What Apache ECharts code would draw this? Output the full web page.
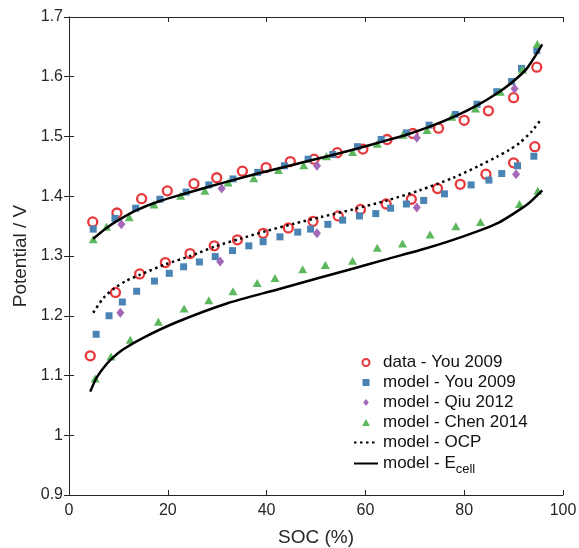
<!DOCTYPE html>
<html><head><meta charset="utf-8">
<script src="https://cdn.jsdelivr.net/npm/echarts@6/dist/echarts.min.js"></script>
<style>html,body{margin:0;padding:0;background:#fff}#c{width:579px;height:548px}</style>
</head><body><div id="c"></div>
<script>
// data - You 2009 (upper / lower branches)
const dataYouUpper = [[4.8,1.357],[9.7,1.372],[14.7,1.396],[19.9,1.409],[25.3,1.421],[29.9,1.431],[35.1,1.442],[39.9,1.448],[44.8,1.458],[49.6,1.462],[54.3,1.473],[59.5,1.479],[64.4,1.495],[69.6,1.505],[74.8,1.514],[80.0,1.527],[84.9,1.543],[90.0,1.565],[94.7,1.616]];
const dataYouLower = [[4.3,1.133],[9.4,1.239],[14.3,1.270],[19.5,1.289],[24.5,1.304],[29.4,1.317],[34.1,1.327],[39.3,1.338],[44.4,1.347],[49.4,1.358],[54.5,1.367],[59.0,1.378],[64.2,1.387],[69.3,1.395],[74.6,1.413],[79.2,1.420],[84.4,1.437],[90.0,1.456],[94.3,1.483]];
// model - You 2009
const modelYouUpper = [[4.9,1.345],[9.3,1.363],[13.5,1.380],[18.4,1.395],[23.7,1.407],[28.3,1.419],[33.2,1.429],[38.2,1.440],[43.6,1.451],[48.4,1.462],[53.4,1.470],[58.4,1.483],[63.2,1.495],[68.3,1.506],[72.9,1.519],[78.2,1.537],[82.6,1.554],[86.6,1.575],[89.6,1.592],[91.6,1.614],[94.7,1.644]];
const modelYouLower = [[5.5,1.169],[8.1,1.200],[10.8,1.223],[13.7,1.241],[17.3,1.258],[20.3,1.271],[23.2,1.282],[26.4,1.290],[29.6,1.299],[33.1,1.309],[36.4,1.317],[39.3,1.324],[42.7,1.332],[46.3,1.340],[48.9,1.345],[52.4,1.353],[55.4,1.360],[58.8,1.367],[62.1,1.371],[65.1,1.380],[68.3,1.387],[71.8,1.393],[76.0,1.404],[81.4,1.419],[85.0,1.427],[87.6,1.438],[90.8,1.451],[94.1,1.467]];
// model - Qiu 2012
const modelQiuUpper = [[10.6,1.353],[30.9,1.413],[50.2,1.451],[70.4,1.498],[90.2,1.580]];
const modelQiuLower = [[10.4,1.205],[30.6,1.291],[50.2,1.338],[70.4,1.381],[90.5,1.437]];
// model - Chen 2014
const modelChenUpper = [[4.9,1.328],[7.6,1.349],[12.2,1.365],[17.2,1.386],[22.6,1.401],[27.5,1.409],[32.2,1.423],[37.4,1.430],[42.4,1.444],[47.5,1.452],[52.1,1.467],[57.4,1.474],[62.4,1.488],[67.6,1.503],[72.5,1.511],[77.5,1.533],[82.3,1.547],[87.3,1.575],[91.8,1.612],[94.8,1.655]];
const modelChenLower = [[5.3,1.095],[8.5,1.132],[12.4,1.160],[18.1,1.190],[23.3,1.212],[28.3,1.226],[33.2,1.241],[38.1,1.255],[41.7,1.263],[47.3,1.278],[51.9,1.285],[57.4,1.292],[62.4,1.314],[67.5,1.321],[73.1,1.336],[78.3,1.350],[83.3,1.357],[91.2,1.387],[94.9,1.409]];
// model - OCP
const ocpCurve = [[4.9,1.205],[7.0,1.230],[9.2,1.246],[11.5,1.258],[14.2,1.268],[19.5,1.286],[24.6,1.300],[29.6,1.316],[34.7,1.329],[40.0,1.342],[45.5,1.354],[50.9,1.365],[57.5,1.378],[64.4,1.393],[71.0,1.410],[77.8,1.431],[83.0,1.451],[86.6,1.466],[89.0,1.477],[91.3,1.490],[93.5,1.507],[95.6,1.529]];
// model - E_cell (charge / discharge)
const ecellUpper = [[4.9,1.329],[7.6,1.347],[10.0,1.360],[13.5,1.376],[18.4,1.392],[23.7,1.405],[28.3,1.416],[33.2,1.427],[38.2,1.438],[43.6,1.449],[48.4,1.459],[53.4,1.469],[58.4,1.480],[63.2,1.491],[68.3,1.503],[72.9,1.516],[78.2,1.534],[82.6,1.552],[86.6,1.572],[89.6,1.590],[92.7,1.614],[95.8,1.654]];
const ecellLower = [[4.3,1.073],[5.5,1.095],[7.0,1.113],[8.5,1.127],[11.0,1.144],[15.2,1.164],[22.0,1.190],[32.1,1.221],[42.2,1.244],[50.9,1.264],[57.6,1.279],[64.0,1.294],[71.1,1.310],[77.0,1.325],[83.2,1.343],[87.0,1.356],[90.0,1.371],[93.0,1.388],[95.8,1.410]];
const xTicks = [0,20,40,60,80,100];
const yTicks = [0.9,1.0,1.1,1.2,1.3,1.4,1.5,1.6,1.7];

const FONT = '"Liberation Sans", Arial, sans-serif';
const TXT = '#262626';
const RED = '#e8383b', BLUE = '#4a84b5', PURPLE = '#a369b8', GREEN = '#5cb85c';
const chart = echarts.init(document.getElementById('c'), null, {renderer:'canvas'});
const axisBase = {
  axisLine:{show:true,lineStyle:{color:TXT,width:1}},
  axisTick:{show:true,inside:true,length:5,lineStyle:{color:TXT,width:1}},
  splitLine:{show:false}
};
const xCommon = Object.assign({type:'value',min:xTicks[0],max:xTicks[xTicks.length-1],interval:20}, axisBase);
const yCommon = Object.assign({type:'value',min:yTicks[0],max:yTicks[yTicks.length-1],interval:0.1}, axisBase);
const lineSeries = (name, data, type) => ({
  name, type:'line', data, smooth:0.25, symbol:'none', z:5,
  lineStyle:{color:'#000',width:2.5,type:type}, itemStyle:{color:'#000'}
});
const scatter = (name, data, extra) => Object.assign({name, type:'scatter', data}, extra);
const legendText = {fontSize:17,color:'#111',fontFamily:FONT,lineHeight:17,
  rich:{sub:{fontSize:13,fontFamily:FONT,color:'#111',lineHeight:5,padding:[12,0,0,0]}}};

chart.setOption({
  animation:false,
  backgroundColor:'#fff',
  textStyle:{fontFamily:FONT},
  grid:{left:69,right:16,top:17,bottom:53,containLabel:false,outerBoundsMode:'none'},
  xAxis:[
    Object.assign({}, xCommon, {position:'bottom', name:'SOC (%)', nameLocation:'middle', nameGap:33,
      nameTextStyle:{fontSize:19,color:TXT,fontFamily:FONT},
      axisLabel:{fontSize:16,color:TXT,margin:8,fontFamily:FONT}}),
    Object.assign({}, xCommon, {position:'top', axisLabel:{show:false}})
  ],
  yAxis:[
    Object.assign({}, yCommon, {position:'left', name:'Potential / V', nameLocation:'middle', nameGap:32,
      nameTextStyle:{fontSize:19,color:TXT,fontFamily:FONT},
      axisLabel:{fontSize:16,color:TXT,margin:6,fontFamily:FONT,formatter:v=>(Math.round(v*10)/10).toString()}}),
    Object.assign({}, yCommon, {position:'right', axisLabel:{show:false}})
  ],
  legend:[{
    orient:'vertical', left:353, top:354, padding:0, itemWidth:24, itemHeight:7, itemGap:3,
    textStyle:legendText,
    data:[
      {name:'data - You 2009', icon:'path://M0,-1A1,1 0 1 1 0,1A1,1 0 1 1 0,-1Z'},
      {name:'model - You 2009', icon:'path://M0,0L1,0L1,1L0,1Z'},
      {name:'model - Qiu 2012', icon:'path://M0.4,0L0.8,0.5L0.4,1L0,0.5Z'},
      {name:'model - Chen 2014', icon:'path://M0.5,0L1,0.9L0,0.9Z'},
      {name:'model - OCP', itemStyle:{opacity:0}}
    ]
  },{
    orient:'vertical', left:353, top:451, padding:0, itemWidth:24, itemHeight:7,
    textStyle:legendText,
    formatter: n => n==='model - Ecell' ? 'model - E{sub|cell}' : n,
    data:[{name:'model - Ecell', itemStyle:{opacity:0}}]
  }],
  series:[
    scatter('data - You 2009', dataYouUpper.concat(dataYouLower), {symbol:'circle', symbolSize:9,
      itemStyle:{color:'rgba(255,255,255,0)',borderColor:RED,borderWidth:2.3,opacity:1}, z:2}),
    scatter('model - You 2009', modelYouUpper.concat(modelYouLower), {symbol:'rect', symbolSize:7,
      itemStyle:{color:BLUE,opacity:1}, z:3}),
    scatter('model - Qiu 2012', modelQiuUpper.concat(modelQiuLower), {symbol:'diamond', symbolSize:[8,10],
      itemStyle:{color:PURPLE,opacity:1}, z:3}),
    scatter('model - Chen 2014', modelChenUpper.concat(modelChenLower), {symbol:'triangle', symbolSize:[9,8],
      itemStyle:{color:GREEN,opacity:1}, z:3}),
    lineSeries('model - OCP', ocpCurve, [2.5,3.5]),
    lineSeries('model - Ecell', ecellUpper, 'solid'),
    lineSeries('model - Ecell', ecellLower, 'solid')
  ]
});
</script></body></html>
